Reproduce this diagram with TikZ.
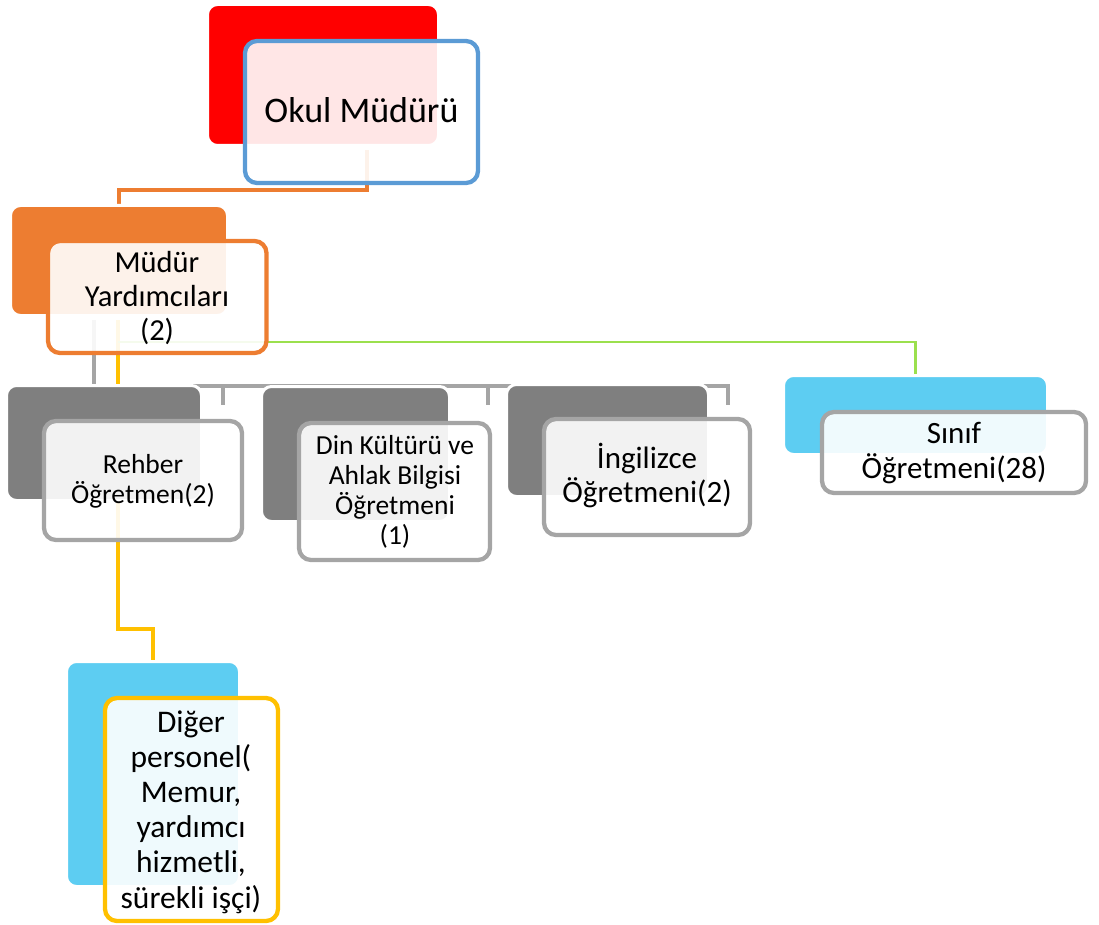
\documentclass[tikz,border=0pt]{standalone}
\usepackage{fontspec}
\setmainfont{Carlito}
\usetikzlibrary{calc}
\pgfdeclarelayer{bg}
\pgfsetlayers{bg,main}
\definecolor{cRed}{HTML}{FF0000}
\definecolor{cBlue}{HTML}{5B9BD5}
\definecolor{cOrange}{HTML}{ED7D31}
\definecolor{cGrayB}{HTML}{7F7F7F}
\definecolor{cGrayL}{HTML}{A5A5A5}
\definecolor{cSky}{HTML}{5DCDF2}
\definecolor{cYellow}{HTML}{FFC000}
\definecolor{cGreen}{HTML}{9BE04E}
\newcommand\mlines[1]{\begin{tabular}[t]{@{}c@{}}#1\end{tabular}}
\begin{document}
\begin{tikzpicture}[x=1pt,y=-1pt,
  backbox/.style={rectangle, rounded corners=10pt, draw=white, line width=3pt, inner sep=0pt, outer sep=0pt},
  frontbox/.style={rectangle, rounded corners=12pt, fill=white, fill opacity=0.9, line width=4.3pt, inner sep=0pt, outer sep=0pt},
  conn/.style={line width=4.5pt},
  thinconn/.style={line width=2.5pt},
  txt/.style={anchor=base, inner sep=0pt, outer sep=0pt, text=black},
]
\useasboundingbox (0,0) rectangle (1099,925);

% back boxes
\node[backbox, fill=cRed, minimum width=231pt, minimum height=141pt] (okulB) at (323,75) {};
\node[backbox, fill=cOrange, minimum width=217pt, minimum height=110pt] (myB) at (119,260.5) {};
\node[backbox, fill=cGrayB, minimum width=195pt, minimum height=115pt] (rehB) at (104,443) {};
\node[backbox, fill=cGrayB, minimum width=188pt, minimum height=135pt] (dinB) at (355.5,454) {};
\node[backbox, fill=cGrayB, minimum width=202pt, minimum height=112pt] (ingB) at (607.5,440.5) {};
\node[backbox, fill=cSky, minimum width=264pt, minimum height=79pt] (sinB) at (915.5,415) {};
\node[backbox, fill=cSky, minimum width=173pt, minimum height=225pt] (digB) at (153,774) {};

% front boxes
\node[frontbox, draw=cBlue, minimum width=233pt, minimum height=142pt] (okulF) at (361.5,112) {};
\node[frontbox, draw=cOrange, minimum width=218.5pt, minimum height=112pt] (myF) at (157.25,297) {};
\node[frontbox, draw=cGrayL, minimum width=198pt, minimum height=119pt] (rehF) at (143,480.5) {};
\node[frontbox, draw=cGrayL, minimum width=191pt, minimum height=137pt] (dinF) at (394.5,491.5) {};
\node[frontbox, draw=cGrayL, minimum width=206pt, minimum height=116pt] (ingF) at (647,477) {};
\node[frontbox, draw=cGrayL, minimum width=264pt, minimum height=81pt] (sinF) at (954,452.5) {};
\node[frontbox, draw=cYellow, minimum width=173pt, minimum height=223pt] (digF) at (191.5,809.5) {};

% texts
\node[txt, font=\fontsize{36}{40}\selectfont] (okulT) at (361.5,123) {Okul Müdürü};
\node[txt, font=\fontsize{30.5}{34}\selectfont] (myT) at (157,272) {\mlines{\smash{Müdür}\\\smash{Yardımcıları}\\\smash{(2)}}};
\node[txt, font=\fontsize{27.5}{30}\selectfont] (rehT) at (143,473) {\mlines{\smash{Rehber}\\\smash{Öğretmen(2)}}};
\node[txt, font=\fontsize{27.5}{30}\selectfont] (dinT) at (395,454) {\mlines{\smash{Din Kültürü ve}\\\smash{Ahlak Bilgisi}\\\smash{Öğretmeni}\\\smash{(1)}}};
\node[txt, font=\fontsize{31}{34}\selectfont] (ingT) at (647,468) {\mlines{\smash{İngilizce}\\\smash{Öğretmeni(2)}}};
\node[txt, font=\fontsize{31}{35}\selectfont] (sinT) at (954,443) {\mlines{\smash{Sınıf}\\\smash{Öğretmeni(28)}}};
\node[txt, font=\fontsize{31.5}{35.2}\selectfont] (digT) at (191,732) {\mlines{\smash{Diğer}\\\smash{personel(}\\\smash{Memur,}\\\smash{yardımcı}\\\smash{hizmetli,}\\\smash{sürekli işçi)}}};

% connectors
\coordinate (oTop) at (367,150);
\coordinate (gTop) at (94,320);
\coordinate (gCorner) at (94,386);
\coordinate (gEnd) at (728,386);
\coordinate (gEndDown) at (728,405);
\coordinate (gT1) at (223,386);
\coordinate (gT1d) at (223,405);
\coordinate (gT2) at (488,386);
\coordinate (gT2d) at (488,405);
\coordinate (yTop) at (118,320);
\coordinate (yBend) at (118,629);
\coordinate (grStart) at (118,342);
\begin{pgfonlayer}{bg}
  \draw[conn, cOrange] (oTop) -- (oTop |- 0,190) -| (myB.north);
  \draw[conn, cGrayL] (gTop) -- (gCorner) -- (gEnd) -- (gEndDown);
  \draw[conn, cGrayL] (gT1) -- (gT1d);
  \draw[conn, cGrayL] (gT2) -- (gT2d);
  \draw[conn, cYellow] (yTop) -- (yBend) -| (digB.north);
  \draw[thinconn, cGreen] (grStart) -| (sinB.north);
\end{pgfonlayer}
\end{tikzpicture}
\end{document}
